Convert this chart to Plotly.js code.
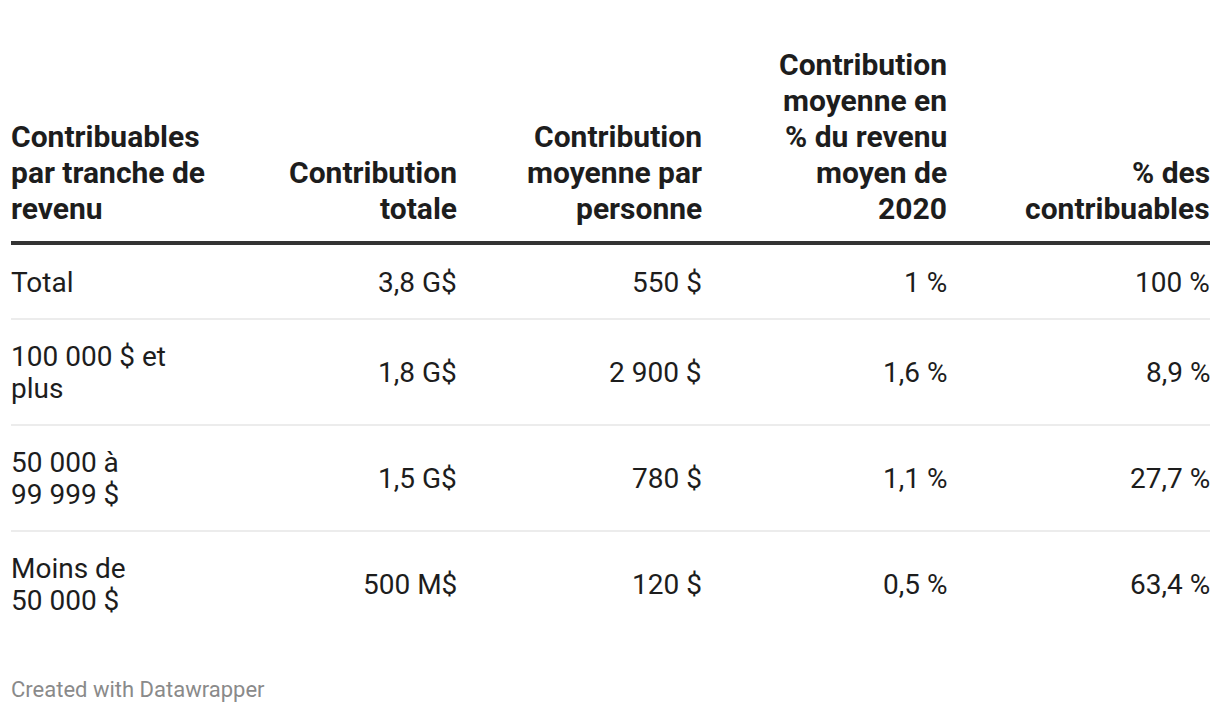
<!DOCTYPE html>
<html>
<head>
<meta charset="utf-8">
<script src="https://cdn.plot.ly/plotly-3.0.1.min.js"></script>
<style>html,body{margin:0;padding:0;background:#fff;}#chart{width:1220px;height:712px;}</style>
</head>
<body>
<div id="chart"></div>
<script>
// ---- data ----
const headers = [
  "Contribuables\npar tranche de\nrevenu",
  "Contribution\ntotale",
  "Contribution\nmoyenne par\npersonne",
  "Contribution\nmoyenne en\n% du revenu\nmoyen de\n2020",
  "% des\ncontribuables"
];
const categories = ["Total", "100 000 $ et\nplus", "50 000 à\n99 999 $", "Moins de\n50 000 $"];
const contributionTotale = ["3,8 G$", "1,8 G$", "1,5 G$", "500 M$"];
const contributionMoyenne = ["550 $", "2 900 $", "780 $", "120 $"];
const pctRevenuMoyen = ["1 %", "1,6 %", "1,1 %", "0,5 %"];
const pctContribuables = ["100 %", "8,9 %", "27,7 %", "63,4 %"];
const footer = "Created with Datawrapper";

// ---- layout constants ----
const W = 1220, H = 712;
const LEFT = 11, RIGHT = 1210;
const colX = [11, 457, 702, 947, 1210];
const colAnchor = ["left", "right", "right", "right", "right"];
const FONT = "Roboto, 'Noto Sans', sans-serif";
const FS = 28, HFS = 30;
const headerLineH = 36, bodyLineH = 32;
const headerLastLine = 208;
const headerRuleY = 243;
const rowHeights = [74, 106, 106, 106];
const rowTop0 = 245;

const annotations = [];
const shapes = [];

function ann(text, x, y, anchor, font) {
  annotations.push({
    text: text, x: x, y: y, xref: "x", yref: "y", xanchor: anchor, yanchor: "middle",
    showarrow: false, align: anchor, borderpad: 0, borderwidth: 0, font: font
  });
}

headers.forEach((h, c) => {
  const lines = h.split("\n");
  lines.forEach((ln, i) => {
    ann(ln, colX[c], headerLastLine - (lines.length - 1 - i) * headerLineH, colAnchor[c],
      {family: FONT, size: HFS, color: "#1d1d1d", weight: 700});
  });
});
shapes.push({type: "line", xref: "x", yref: "y", x0: LEFT, x1: RIGHT, y0: headerRuleY, y1: headerRuleY,
  line: {color: "#333333", width: 4}});

const columns = [categories, contributionTotale, contributionMoyenne, pctRevenuMoyen, pctContribuables];
let rowTop = rowTop0;
categories.forEach((cat, r) => {
  const h = rowHeights[r];
  const yc = rowTop + h / 2;
  columns.forEach((col, c) => {
    const lines = col[r].split("\n");
    const n = lines.length;
    lines.forEach((ln, i) => ann(ln, colX[c], yc + (i - (n - 1) / 2) * bodyLineH, colAnchor[c],
      {family: FONT, size: FS, color: "#1d1d1d"}));
  });
  rowTop += h;
  if (r < categories.length - 1) {
    shapes.push({type: "line", xref: "x", yref: "y", x0: LEFT, x1: RIGHT, y0: rowTop, y1: rowTop,
      line: {color: "#e6e6e6", width: 1.5}});
  }
});

ann(footer, LEFT, 689, "left", {family: FONT, size: 22, color: "#8a8a8a"});

Plotly.newPlot("chart", [], {
  width: W, height: H,
  margin: {l: 0, r: 0, t: 0, b: 0},
  paper_bgcolor: "#ffffff", plot_bgcolor: "#ffffff",
  xaxis: {range: [0, W], visible: false, fixedrange: true},
  yaxis: {range: [H, 0], visible: false, fixedrange: true},
  showlegend: false,
  annotations: annotations,
  shapes: shapes
}, {staticPlot: true, displayModeBar: false});
</script>
</body>
</html>
